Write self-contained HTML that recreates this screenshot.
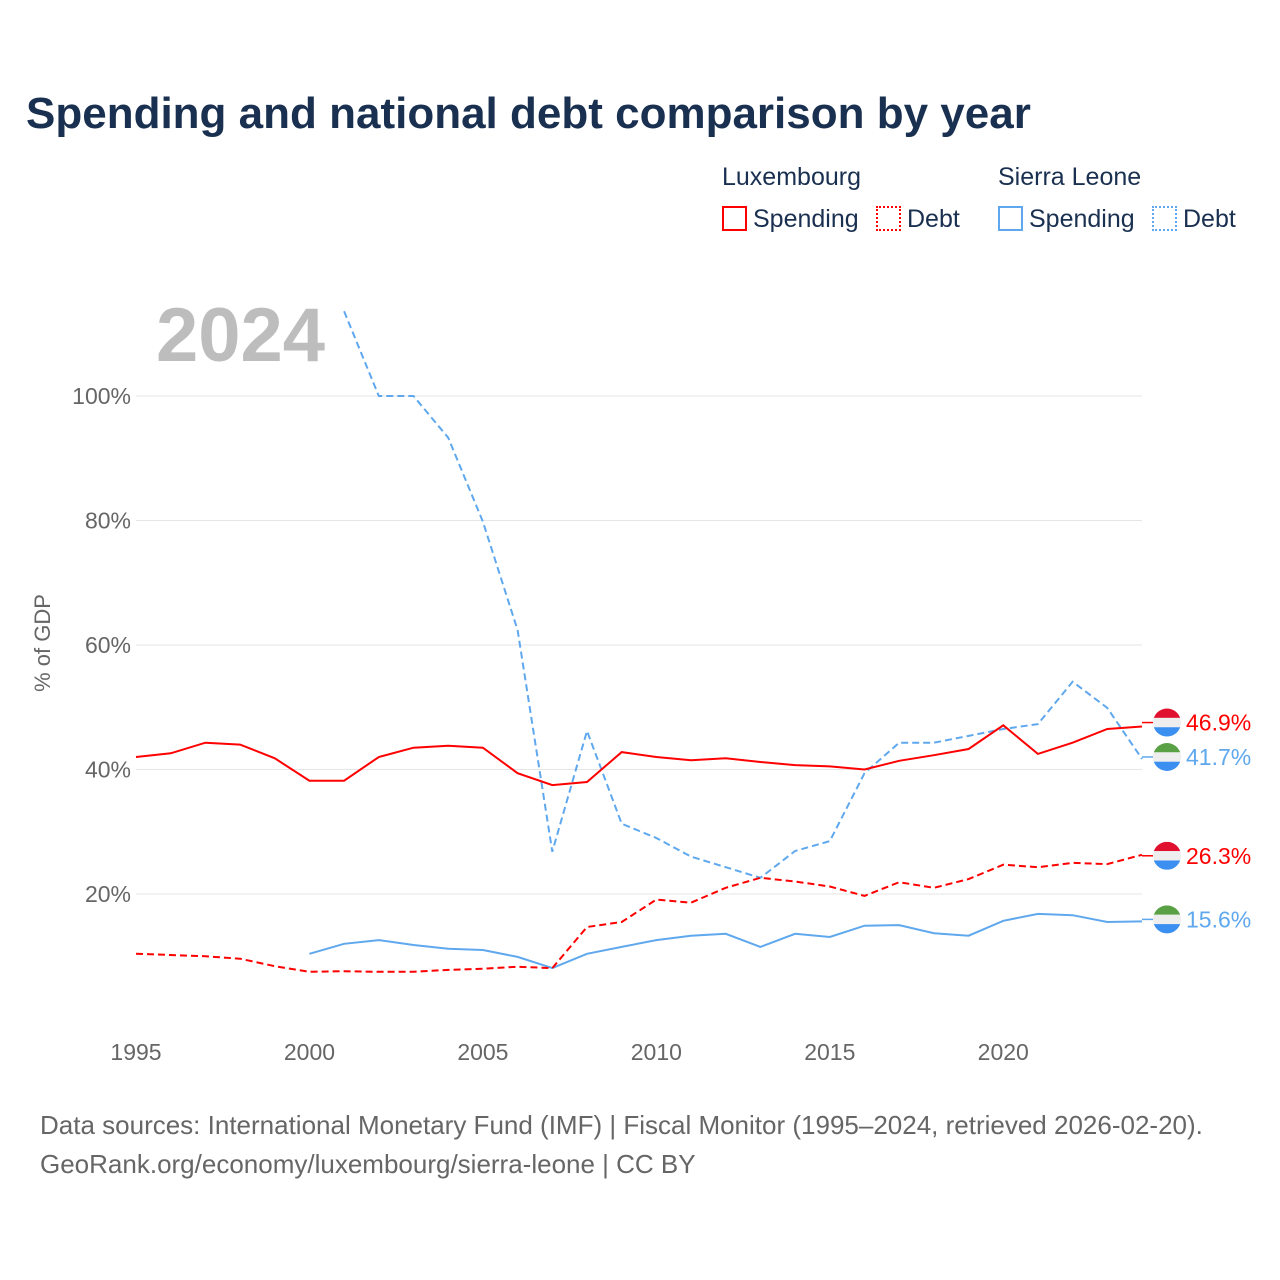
<!DOCTYPE html>
<html><head><meta charset="utf-8"><style>
body{margin:0;background:#fff;font-family:"Liberation Sans",sans-serif;}
#wrap{position:relative;width:1280px;height:1280px;overflow:hidden;}
.t{position:absolute;white-space:nowrap;}
</style></head><body>
<div id="wrap">
<div class="t" style="left:26px;top:89px;font-size:44px;font-weight:bold;color:#1a3050;">Spending and national debt comparison by year</div>
<div class="t" style="left:722px;top:163px;font-size:25px;color:#1a3050;">Luxembourg</div>
<div class="t" style="left:998px;top:163px;font-size:25px;color:#1a3050;">Sierra Leone</div>
<div class="t" style="left:722px;top:205px;font-size:25px;color:#1a3050;"><span style="display:inline-block;width:21px;height:21px;border:2px solid #f00;vertical-align:-4px;margin-right:6px;"></span>Spending</div>
<div class="t" style="left:876px;top:205px;font-size:25px;color:#1a3050;"><span style="display:inline-block;width:21px;height:21px;border:2px dotted #f00;vertical-align:-4px;margin-right:6px;"></span>Debt</div>
<div class="t" style="left:998px;top:205px;font-size:25px;color:#1a3050;"><span style="display:inline-block;width:21px;height:21px;border:2px solid #5fa8ee;vertical-align:-4px;margin-right:6px;"></span>Spending</div>
<div class="t" style="left:1152px;top:205px;font-size:25px;color:#1a3050;"><span style="display:inline-block;width:21px;height:21px;border:2px dotted #5fa8ee;vertical-align:-4px;margin-right:6px;"></span>Debt</div>
<div class="t" style="left:156px;top:292px;font-size:76px;font-weight:bold;color:#bdbdbd;">2024</div>
<div class="t" style="left:40px;top:1106px;font-size:26px;color:#666;line-height:39px;">Data sources: International Monetary Fund (IMF) | Fiscal Monitor (1995–2024, retrieved 2026-02-20).<br>GeoRank.org/economy/luxembourg/sierra-leone | CC BY</div>
<svg id="chart" width="1280" height="1280" style="position:absolute;left:0;top:0;font-family:'Liberation Sans',sans-serif;"></svg>
</div>
<script>
const years=[1995,1996,1997,1998,1999,2000,2001,2002,2003,2004,2005,2006,2007,2008,2009,2010,2011,2012,2013,2014,2015,2016,2017,2018,2019,2020,2021,2022,2023,2024];
const luxSpending=[42.0,42.6,44.3,44.0,41.8,38.2,38.2,42.0,43.5,43.8,43.5,39.4,37.5,38.0,42.8,42.0,41.5,41.8,41.2,40.7,40.5,40.0,41.4,42.3,43.3,47.1,42.5,44.3,46.5,46.9];
const luxDebt=[10.4,10.2,10.0,9.6,8.4,7.5,7.6,7.5,7.5,7.8,8.0,8.3,8.1,14.7,15.5,19.1,18.6,21.0,22.6,22.0,21.2,19.7,21.9,21.0,22.4,24.7,24.3,25.0,24.8,26.3];
const slSpending=[null,null,null,null,null,10.4,12.0,12.6,11.8,11.2,11.0,9.9,8.1,10.4,11.5,12.6,13.3,13.6,11.5,13.6,13.1,14.9,15.0,13.7,13.3,15.7,16.8,16.6,15.5,15.6];
const slDebt=[null,null,null,null,null,null,113.6,100,100,93.3,79.8,62.4,26.8,46.2,31.3,29.0,26.0,24.3,22.6,26.9,28.5,39.4,44.3,44.3,45.4,46.5,47.3,54.1,49.9,41.7];
const yTicks=[20,40,60,80,100];
const xTicks=[1995,2000,2005,2010,2015,2020];
const NS='http://www.w3.org/2000/svg';
const svg=document.getElementById('chart');
const X=y=>136+(y-1995)*34.69;
const Y=v=>1018.5-v*6.225;
function mk(t,a){const e=document.createElementNS(NS,t);for(const k in a)e.setAttribute(k,a[k]);svg.appendChild(e);return e;}
yTicks.forEach(v=>{
  const g=mk('line',{x1:136,x2:1142,y1:Y(v),y2:Y(v),stroke:'#e6e6e6','stroke-width':1});
  
  
  const t=mk('text',{x:131,y:Y(v)+8,'text-anchor':'end','font-size':23,fill:'#666'});
  t.textContent=v+'%';
  
  
});
xTicks.forEach(v=>{
  const t=mk('text',{x:X(v),y:1060,'text-anchor':'middle','font-size':23,fill:'#666'});
  t.textContent=v;
  
  
});
const yt=mk('text',{x:0,y:0,transform:'translate(50,643) rotate(-90)','text-anchor':'middle','font-size':22,fill:'#666'});
yt.textContent='% of GDP';


function series(vals,color,dash,name){
  let d='';vals.forEach((v,i)=>{if(v==null)return;d+=(d?'L':'M')+X(years[i]).toFixed(1)+','+Y(v).toFixed(1);});
  const p=mk('path',{d:d,fill:'none',stroke:color,'stroke-width':2,'stroke-dasharray':dash||'none'});
  
  
}
series(slDebt,'#5fa8ee','7,4','sl-debt-line');
series(slSpending,'#5fa8ee','','sl-spending-line');
series(luxDebt,'#f00','7,4','lux-debt-line');
series(luxSpending,'#f00','','lux-spending-line');
function flag(cy,top,color,val,name){
  const cx=1167;
  mk('line',{x1:1142,x2:1153,y1:cy,y2:cy,stroke:color,'stroke-width':1.5});
  const cp='c'+name;
  const c=mk('clipPath',{id:cp});
  const circ=document.createElementNS(NS,'circle');circ.setAttribute('cx',cx);circ.setAttribute('cy',cy);circ.setAttribute('r',14);c.appendChild(circ);
  const g=mk('g',{'clip-path':'url(#'+cp+')'});
  
  
  [[top,-14],['#eeeeee',-4.7],['#3a8ff0',4.7]].forEach(([f,o])=>{const r=document.createElementNS(NS,'rect');r.setAttribute('x',cx-14);r.setAttribute('y',cy+o);r.setAttribute('width',28);r.setAttribute('height',9.4);r.setAttribute('fill',f);g.appendChild(r);});
  const t=mk('text',{x:1186,y:cy+8,'font-size':23,fill:color});
  t.textContent=val.toFixed(1)+'%';
  
  
}
const L=years.length-1;
flag(Y(luxSpending[L])-4,'#e0102f','#f00',luxSpending[L],'lux-spending');
flag(757,'#5aa146','#5fa8ee',slDebt[L],'sl-debt');
flag(Y(luxDebt[L])+1,'#e0102f','#f00',luxDebt[L],'lux-debt');
flag(Y(slSpending[L])-2,'#5aa146','#5fa8ee',slSpending[L],'sl-spending');
</script>
</body></html>
